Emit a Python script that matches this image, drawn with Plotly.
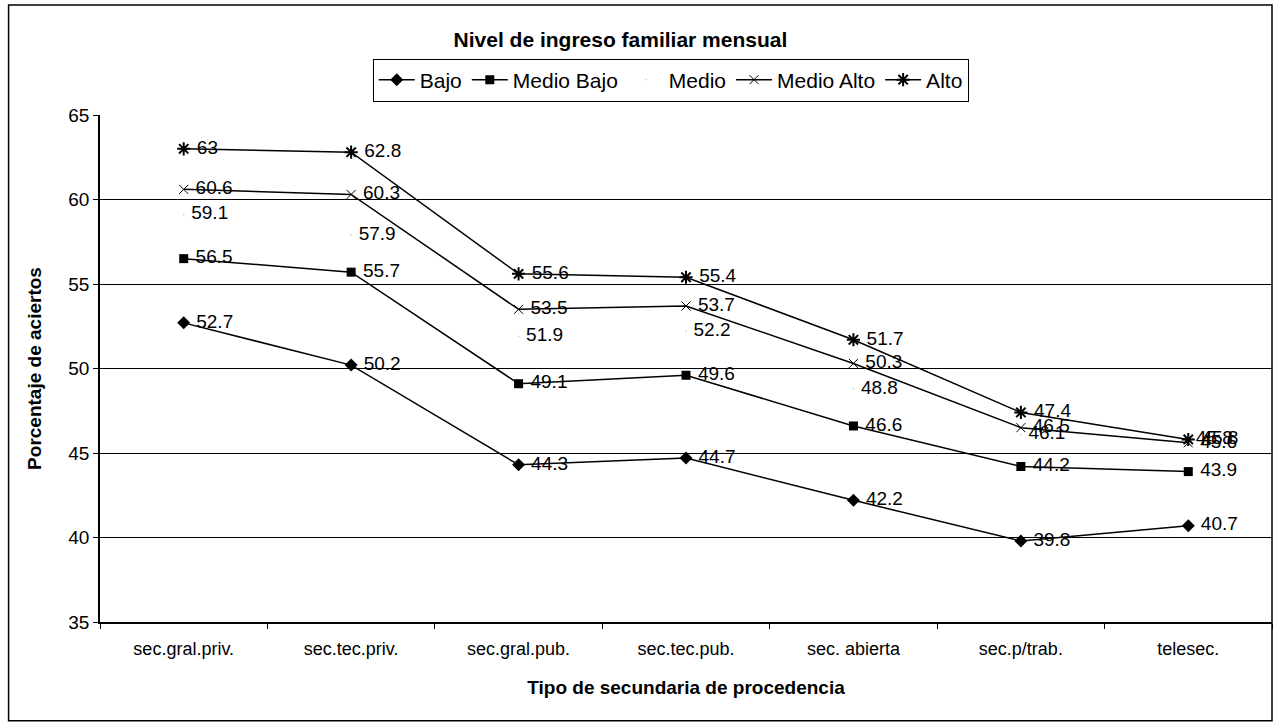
import plotly.graph_objects as go

categorias = ["sec.gral.priv.", "sec.tec.priv.", "sec.gral.pub.", "sec.tec.pub.",
              "sec. abierta", "sec.p/trab.", "telesec."]

bajo = [52.7, 50.2, 44.3, 44.7, 42.2, 39.8, 40.7]
medio_bajo = [56.5, 55.7, 49.1, 49.6, 46.6, 44.2, 43.9]
medio = [59.1, 57.9, 51.9, 52.2, 48.8, 46.1, 45.8]
medio_alto = [60.6, 60.3, 53.5, 53.7, 50.3, 46.5, 45.6]
alto = [63.0, 62.8, 55.6, 55.4, 51.7, 47.4, 45.8]

y_ticks = [35, 40, 45, 50, 55, 60, 65]

FONT = "Liberation Sans, Arial, sans-serif"

series = [
    ("Bajo", bajo, dict(symbol="diamond", size=10, color="black"), "black"),
    ("Medio Bajo", medio_bajo, dict(symbol="square", size=9, color="black"), "black"),
    ("Medio", medio, dict(symbol="circle", size=2, color="#d8d8d8"), "rgba(0,0,0,0)"),
    ("Medio Alto", medio_alto, dict(symbol="x-thin-open", size=9,
                                    line=dict(color="black", width=1)), "black"),
    ("Alto", alto, dict(symbol="asterisk-open", size=11,
                        line=dict(color="black", width=2)), "black"),
]

fig = go.Figure()
for nombre, valores, marcador, color_linea in series:
    fig.add_trace(go.Scatter(
        x=categorias, y=valores, name=nombre,
        mode="lines+markers+text",
        line=dict(color=color_linea, width=1.5),
        marker=marcador,
        text=[f" {v:g}" for v in valores],
        textposition="middle right",
        textfont=dict(family=FONT, size=19, color="black"),
        cliponaxis=False,
    ))

fig.update_layout(
    width=1274, height=724,
    paper_bgcolor="white", plot_bgcolor="white",
    margin=dict(l=100, r=2, t=115, b=102),
    font=dict(family=FONT, size=18, color="black"),
    title=dict(text="<b>Nivel de ingreso familiar mensual</b>",
               x=0.487, xanchor="center", y=0.945, yanchor="middle",
               font=dict(family=FONT, size=21, color="black")),
    legend=dict(orientation="h", x=0.487, xanchor="center", y=1.069, yanchor="middle",
                bordercolor="black", borderwidth=1, bgcolor="white",
                font=dict(family=FONT, size=21, color="black"),
                itemwidth=36, tracegroupgap=0),
    showlegend=True,
)

fig.update_xaxes(
    type="category", range=[-0.5, 6.5],
    showline=True, linecolor="black", linewidth=1.5,
    ticks="outside", ticklen=5, tickcolor="black", tickson="boundaries",
    ticklabelstandoff=10,
    showgrid=False,
    tickfont=dict(family=FONT, size=18, color="black"),
    title=dict(text="<b>Tipo de secundaria de procedencia</b>",
               font=dict(family=FONT, size=19, color="black"), standoff=22),
)

fig.update_yaxes(
    range=[35, 65], tickvals=y_ticks,
    showline=True, linecolor="black", linewidth=1.5,
    ticks="outside", ticklen=5, tickcolor="black",
    showgrid=True, gridcolor="black", gridwidth=1,
    tickfont=dict(family=FONT, size=19, color="black"),
    title=dict(text="<b>Porcentaje de aciertos</b>",
               font=dict(family=FONT, size=19, color="black"),
               standoff=22),
)

# outer frame around the whole chart
fig.add_shape(type="rect", xref="paper", yref="paper",
              x0=-0.078, x1=1.0, y0=-0.195, y1=1.217,
              line=dict(color="black", width=1.5))

fig.write_html("out.html")
